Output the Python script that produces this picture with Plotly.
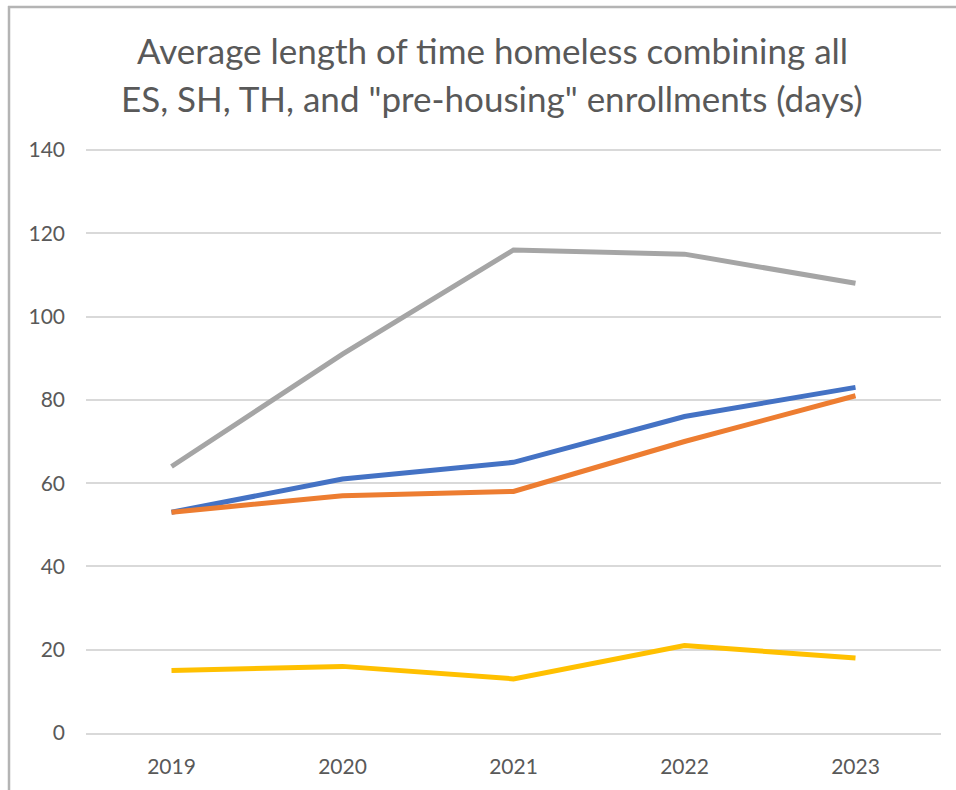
import plotly.graph_objects as go

years = ["2019", "2020", "2021", "2022", "2023"]
series_a = [53, 61, 65, 76, 83]
series_b = [53, 57, 58, 70, 81]
series_c = [64, 91, 116, 115, 108]
series_d = [15, 16, 13, 21, 18]
names = ["Series 1", "Series 2", "Series 3", "Series 4"]
colors = ["#4472C4", "#ED7D31", "#A5A5A5", "#FFC000"]
y_ticks = [0, 20, 40, 60, 80, 100, 120, 140]
title_lines = ["Average length of time homeless combining all",
               "ES, SH, TH, and \"pre-housing\" enrollments (days)"]

W, H = 956, 790
L, R, T, B = 86, 15, 149, 57

fig = go.Figure()
for name, vals, col in zip(names, [series_a, series_b, series_c, series_d], colors):
    fig.add_trace(go.Scatter(x=years, y=vals, mode="lines", name=name,
                             line=dict(color=col, width=5)))

pw = W - L - R
ph = H - T - B

def px_x(x):
    return (x - L) / pw

def px_y(y):
    return (H - B - y) / ph

annotations = []
for txt, yc in zip(title_lines, [50, 98]):
    annotations.append(dict(text=txt, x=px_x(492), y=px_y(yc), xref="paper", yref="paper",
                            xanchor="center", yanchor="middle", showarrow=False,
                            font=dict(family="Lato", size=35, color="#595959")))

border = dict(color="#B4B4B4", width=2.5)
fig.update_layout(
    width=W, height=H,
    margin=dict(l=L, r=R, t=T, b=B),
    paper_bgcolor="white", plot_bgcolor="white",
    showlegend=False,
    annotations=annotations,
    shapes=[
        dict(type="line", xref="paper", yref="paper",
             x0=px_x(8), x1=px_x(990), y0=px_y(7), y1=px_y(7),
             line=border, layer="above"),
        dict(type="line", xref="paper", yref="paper",
             x0=px_x(9), x1=px_x(9), y0=px_y(6), y1=px_y(790), line=border),
    ],
    font=dict(family="Lato", color="#595959"),
)
fig.update_xaxes(type="category", range=[-0.5, 4.5], showgrid=False,
                 showline=True, linecolor="#D9D9D9", linewidth=1.5,
                 tickfont=dict(size=21, color="#595959"), ticks="",
                 ticklabelstandoff=14, zeroline=False)
fig.update_yaxes(range=[0, 140.25], tickvals=y_ticks, showgrid=True,
                 gridcolor="#D9D9D9", gridwidth=1.5, zeroline=False,
                 showline=False, tickfont=dict(size=21, color="#595959"),
                 ticks="", ticklabelstandoff=20)

fig.write_html("out.html", config={"displayModeBar": False},
               post_script="document.body.style.margin='0';")
